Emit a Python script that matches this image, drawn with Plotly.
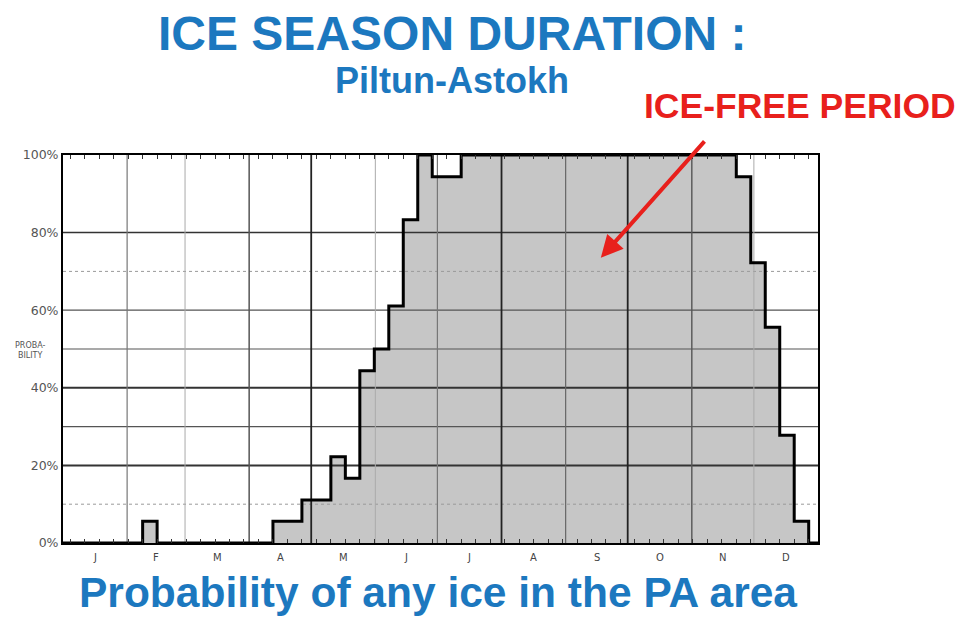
import plotly.graph_objects as go

# ---------------- data ----------------
months = ["J", "F", "M", "A", "M", "J", "J", "A", "S", "O", "N", "D"]
month_days = [31, 28, 31, 30, 31, 30, 31, 31, 30, 31, 30, 31]

# weekly probability (%) of any ice, 52 weeks starting at day 3.5
week_start = [3.5 + 7 * k for k in range(52)]
week_prob = [
    0, 0, 0, 0, 0, 5.6, 0, 0, 0, 0,
    0, 0, 0, 0, 5.6, 5.6, 11.1, 11.1, 22.2, 16.7,
    44.4, 50.0, 61.1, 83.3, 100, 94.4, 94.4, 100, 100, 100,
    100, 100, 100, 100, 100, 100, 100, 100, 100, 100,
    100, 100, 100, 100, 100, 100, 94.4, 72.2, 55.6, 27.8,
    5.6, 0,
]
ytick_vals = [0, 20, 40, 60, 80, 100]
ytick_text = ["0%", "20%", "40%", "60%", "80%", "100%"]

title_text = "ICE SEASON DURATION :"
subtitle_text = "Piltun-Astokh"
callout_text = "ICE-FREE PERIOD"
bottom_text = "Probability of any ice in the PA area"
ylabel_text = "PROBA-<br>BILITY"

# ---------------- geometry ----------------
W, H = 964, 617
L, T = 63, 155
R = W - 818
B = H - 543
PW, PH = W - L - R, H - T - B


def px_x(px):
    return (px - L) / PW


def px_y(py):
    return (H - B - py) / PH


BLUE = "#1c78bf"
RED = "#e8201c"
FONT = "Liberation Sans, Arial, sans-serif"
SMALL = "DejaVu Sans, sans-serif"

bounds = [0]
for d in month_days:
    bounds.append(bounds[-1] + d)
mids = [(bounds[i] + bounds[i + 1]) / 2 for i in range(12)]

step_x = [0] + week_start + [week_start[-1] + 7]
step_y = [0] + week_prob + [week_prob[-1]]

fig = go.Figure()

fig.add_trace(go.Scatter(
    x=step_x, y=step_y, mode="lines", line_shape="hv",
    line=dict(width=0, color="rgba(0,0,0,0)"),
    fill="tozeroy", fillcolor="#c6c6c6", hoverinfo="skip", showlegend=False,
))

hstyles = {
    10: ("#9a9a9a", 1, "dot"), 20: ("#333333", 2, "solid"), 30: ("#555555", 1.2, "solid"),
    40: ("#333333", 2, "solid"), 50: ("#555555", 1.2, "solid"), 60: ("#555555", 1.2, "solid"),
    70: ("#9a9a9a", 1, "dot"), 80: ("#333333", 1.5, "solid"),
}
for yv, (c, w, dsh) in hstyles.items():
    fig.add_trace(go.Scatter(x=[0, 365], y=[yv, yv], mode="lines",
                             line=dict(color=c, width=w, dash=dsh),
                             hoverinfo="skip", showlegend=False))

vstyles = ["#777777", "#aaaaaa", "#555555", "#222222", "#aaaaaa", "#777777",
           "#222222", "#666666", "#222222", "#555555", "#aaaaaa"]
vwidths = [1.2, 1, 1.5, 1.8, 1, 1.2, 1.8, 1.2, 1.8, 1.4, 1]
for i, b in enumerate(bounds[1:-1]):
    fig.add_trace(go.Scatter(x=[b, b], y=[0, 100], mode="lines",
                             line=dict(color=vstyles[i], width=vwidths[i]),
                             hoverinfo="skip", showlegend=False))

fig.add_trace(go.Scatter(
    x=step_x, y=step_y, mode="lines", line_shape="hv",
    line=dict(width=3, color="black"), hoverinfo="skip", showlegend=False,
    cliponaxis=False,
))

fig.update_xaxes(
    range=[0, 365], showgrid=False, zeroline=False,
    showline=True, linecolor="black", linewidth=2, mirror="ticks",
    tickvals=week_start, showticklabels=False,
    ticks="inside", ticklen=4, tickcolor="#333333", tickwidth=1,
)
fig.update_yaxes(
    range=[0, 100], showgrid=False, zeroline=False,
    showline=True, linecolor="black", linewidth=2, mirror=True,
    tickvals=ytick_vals, ticktext=ytick_text, ticks="",
    tickfont=dict(family=SMALL, size=12.5, color="#555555"),
)

annotations = []
for m, xm in zip(months, mids):
    annotations.append(dict(x=xm, y=px_y(557), xref="x", yref="paper", text=m,
                            xanchor="center", yanchor="middle", showarrow=False,
                            font=dict(family=SMALL, size=10, color="#444444")))


def ptext(txt, cx, cy, size, color):
    return dict(x=px_x(cx), y=px_y(cy), xref="paper", yref="paper", text=txt,
                xanchor="center", yanchor="middle", showarrow=False,
                font=dict(family=FONT, size=size, color=color, weight="bold"))


annotations += [
    ptext(title_text, 451.5, 33, 48, BLUE),
    ptext(subtitle_text, 452, 80, 36, BLUE),
    ptext(callout_text, 800, 106, 35.5, RED),
    ptext(bottom_text, 437.5, 592, 42.5, BLUE),
    dict(x=px_x(30), y=px_y(350), xref="paper", yref="paper", text=ylabel_text,
         xanchor="center", yanchor="middle", showarrow=False,
         font=dict(family=SMALL, size=8, color="#555555")),
    dict(x=260, y=73.5, xref="x", yref="y", ax=105, ay=-118, text="",
         showarrow=True, arrowhead=2, arrowsize=1.1, arrowwidth=4, arrowcolor=RED),
]

fig.update_layout(
    width=W, height=H, margin=dict(l=L, r=R, t=T, b=B),
    plot_bgcolor="white", paper_bgcolor="white",
    annotations=annotations, showlegend=False,
)

fig.write_html(
    "out.html",
    config={"displayModeBar": False},
    post_script="document.body.style.margin='0';document.body.style.overflow='hidden';",
)
